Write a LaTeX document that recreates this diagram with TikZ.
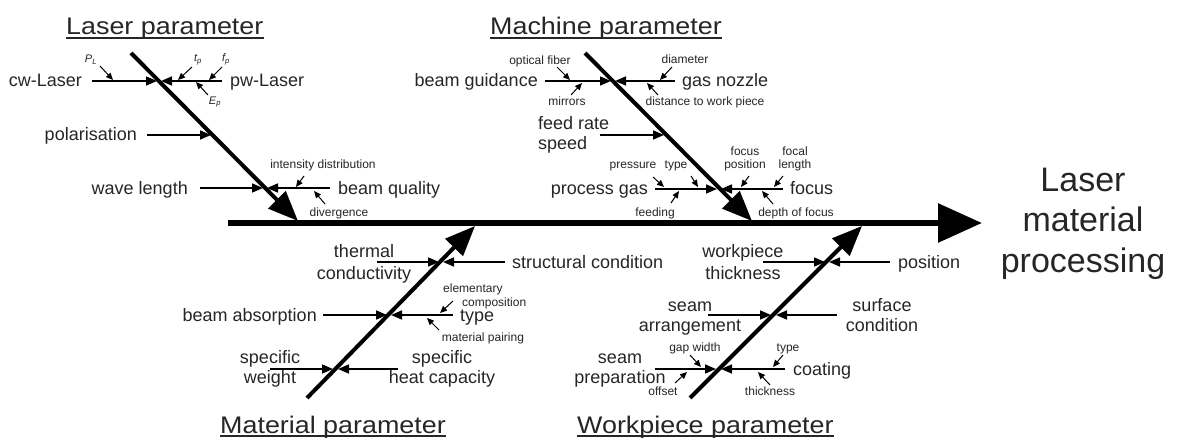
\documentclass[tikz,border=0pt]{standalone}
\usepackage{fontspec}
\setmainfont{Liberation Sans}
\newfontfamily\titlefont[FakeStretch=1.12]{Liberation Sans}
\usetikzlibrary{arrows.meta}
\begin{document}
\begin{tikzpicture}[x=1pt,y=-1pt,
  med/.style={font=\fontsize{18}{21}\selectfont,inner sep=0pt,text=black!85},
  sml/.style={font=\fontsize{12}{13}\selectfont,inner sep=0pt,text=black!85},
  sub/.style={font=\fontsize{11}{12}\selectfont\itshape,inner sep=0pt,text=black!85},
  ttl/.style={font=\titlefont\fontsize{24}{28}\selectfont,inner sep=0pt,text=black!85,anchor=base west},
  big/.style={font=\fontsize{34}{40}\selectfont,inner sep=0pt,text=black!85,anchor=base},
  spine/.style={line width=6pt,-{Triangle[length=44pt,width=38pt]}},
  bone/.style={line width=4pt,-{Triangle[length=30pt,width=24pt]}},
  branch/.style={line width=1.6pt,-{Triangle[length=11pt,width=9pt]}},
  twig/.style={line width=1pt,-{Triangle[length=7pt,width=6pt]}},
  uline/.style={line width=1.4pt,black!85}]
\useasboundingbox[fill=white] (0,0) rectangle (1179,441);

% ---------- spine ----------
\coordinate (sp0) at (228,223);
\coordinate (sp1) at (982,223);
\draw[spine] (sp0) -- (sp1);
\node[big] (r1) at (1083,192) {Laser};
\node[big] (r2) at (1083,232) {material};
\node[big] (r3) at (1083,272) {processing};

% ---------- Laser parameter ----------
\node[ttl] (t1) at (66,35) {Laser parameter};
\draw[uline] ([yshift=-3pt]t1.base west) -- ([yshift=-3pt]t1.base east);
\coordinate (b1s) at (131,53);
\coordinate (b1e) at (298,221);
\draw[bone] (b1s) -- (b1e);

\node[med,anchor=base east] (cw) at (82,87) {cw-Laser};
\coordinate (cwa) at (92,81); \coordinate (cwb) at (157,81);
\draw[branch] (cwa) -- (cwb);
\node[med,anchor=base west] (pw) at (230,87) {pw-Laser};
\coordinate (pwa) at (222,81); \coordinate (pwb) at (161,81);
\draw[branch] (pwa) -- (pwb);
\node[sub] (pl) at (91,60) {P\textsubscript{L}};
\coordinate (pla) at (100,66); \coordinate (plb) at (113,80);
\draw[twig] (pla) -- (plb);
\node[sub] (tp) at (198,60) {t\textsubscript{p}};
\coordinate (tpa) at (192,67); \coordinate (tpb) at (178,80);
\draw[twig] (tpa) -- (tpb);
\node[sub] (fp) at (226,59) {f\textsubscript{p}};
\coordinate (fpa) at (222,67); \coordinate (fpb) at (209,80);
\draw[twig] (fpa) -- (fpb);
\node[sub] (ep) at (215,102) {E\textsubscript{p}};
\coordinate (epa) at (208,95); \coordinate (epb) at (196,82);
\draw[twig] (epa) -- (epb);

\node[med,anchor=base east] (pol) at (137,141) {polarisation};
\coordinate (pola) at (147,135); \coordinate (polb) at (211,135);
\draw[branch] (pola) -- (polb);

\node[med,anchor=base east] (wl) at (188,194) {wave length};
\coordinate (wla) at (200,188); \coordinate (wlb) at (263,188);
\draw[branch] (wla) -- (wlb);
\node[med,anchor=base west] (bq) at (338,194) {beam quality};
\coordinate (bqa) at (330,188); \coordinate (bqb) at (267,188);
\draw[branch] (bqa) -- (bqb);
\node[sml,anchor=base] (id) at (323,169) {intensity distribution};
\coordinate (ida) at (304,176); \coordinate (idb) at (296,187);
\draw[twig] (ida) -- (idb);
\node[sml,anchor=base] (dv) at (339,216) {divergence};
\coordinate (dva) at (325,204); \coordinate (dvb) at (314,191);
\draw[twig] (dva) -- (dvb);

% ---------- Machine parameter ----------
\node[ttl] (t2) at (490,35) {Machine parameter};
\draw[uline] ([yshift=-3pt]t2.base west) -- ([yshift=-3pt]t2.base east);
\coordinate (b2s) at (585,53);
\coordinate (b2e) at (752,221);
\draw[bone] (b2s) -- (b2e);

\node[med,anchor=base east] (bg) at (538,87) {beam guidance};
\coordinate (bga) at (545,81); \coordinate (bgb) at (611,81);
\draw[branch] (bga) -- (bgb);
\node[med,anchor=base west] (gn) at (682,87) {gas nozzle};
\coordinate (gna) at (675,81); \coordinate (gnb) at (615,81);
\draw[branch] (gna) -- (gnb);
\node[sml,anchor=base] (of) at (540,65) {optical fiber};
\coordinate (ofa) at (557,67); \coordinate (ofb) at (570,80);
\draw[twig] (ofa) -- (ofb);
\node[sml,anchor=base] (mi) at (567,106) {mirrors};
\coordinate (mia) at (571,95); \coordinate (mib) at (582,83);
\draw[twig] (mia) -- (mib);
\node[sml,anchor=base] (di) at (685,64) {diameter};
\coordinate (dia) at (672,67); \coordinate (dib) at (660,80);
\draw[twig] (dia) -- (dib);
\node[sml,anchor=base] (dw) at (705,106) {distance to work piece};
\coordinate (dwa) at (658,95); \coordinate (dwb) at (647,83);
\draw[twig] (dwa) -- (dwb);

\node[med,anchor=base west] (fr1) at (538,130) {feed rate};
\node[med,anchor=base west] (fr2) at (538,150) {speed};
\coordinate (fra) at (600,135); \coordinate (frb) at (664,135);
\draw[branch] (fra) -- (frb);

\node[med,anchor=base east] (pg) at (648,195) {process gas};
\coordinate (pga) at (655,189); \coordinate (pgb) at (717,189);
\draw[branch] (pga) -- (pgb);
\node[med,anchor=base west] (fc) at (790,195) {focus};
\coordinate (fca) at (783,189); \coordinate (fcb) at (721,189);
\draw[branch] (fca) -- (fcb);
\node[sml,anchor=base] (pr) at (633,169) {pressure};
\coordinate (pra) at (653,177); \coordinate (prb) at (664,187);
\draw[twig] (pra) -- (prb);
\node[sml,anchor=base] (ty1) at (676,169) {type};
\coordinate (ty1a) at (691,176); \coordinate (ty1b) at (698,187);
\draw[twig] (ty1a) -- (ty1b);
\node[sml,anchor=base] (fe) at (655,216) {feeding};
\coordinate (fea) at (671,203); \coordinate (feb) at (679,191);
\draw[twig] (fea) -- (feb);
\node[sml,anchor=base] (fp1) at (745,156) {focus};
\node[sml,anchor=base] (fp2) at (745,169) {position};
\coordinate (fpoa) at (749,176); \coordinate (fpob) at (741,187);
\draw[twig] (fpoa) -- (fpob);
\node[sml,anchor=base] (fl1) at (795,156) {focal};
\node[sml,anchor=base] (fl2) at (795,169) {length};
\coordinate (fla) at (783,176); \coordinate (flb) at (774,187);
\draw[twig] (fla) -- (flb);
\node[sml,anchor=base] (df) at (796,216) {depth of focus};
\coordinate (dfa) at (773,204); \coordinate (dfb) at (762,191);
\draw[twig] (dfa) -- (dfb);

% ---------- Material parameter ----------
\node[ttl] (t3) at (220,433) {Material parameter};
\draw[uline] ([yshift=-3pt]t3.base west) -- ([yshift=-3pt]t3.base east);
\coordinate (b3s) at (307,398);
\coordinate (b3e) at (475,226);
\draw[bone] (b3s) -- (b3e);

\node[med,anchor=base] (tc1) at (364,258) {thermal};
\node[med,anchor=base] (tc2) at (364,279) {conductivity};
\coordinate (tca) at (377,262); \coordinate (tcb) at (439,262);
\draw[branch] (tca) -- (tcb);
\node[med,anchor=base west] (sc) at (512,268) {structural condition};
\coordinate (sca) at (505,262); \coordinate (scb) at (443,262);
\draw[branch] (sca) -- (scb);

\node[med,anchor=base east] (ba) at (317,321) {beam absorption};
\coordinate (baa) at (323,315); \coordinate (bab) at (387,315);
\draw[branch] (baa) -- (bab);
\node[med,anchor=base west] (ty2) at (460,321) {type};
\coordinate (ty2a) at (453,315); \coordinate (ty2b) at (391,315);
\draw[branch] (ty2a) -- (ty2b);
\node[sml,anchor=base west] (ec1) at (443,292) {elementary};
\node[sml,anchor=base west] (ec2) at (462,306) {composition};
\coordinate (eca) at (453,301); \coordinate (ecb) at (440,313);
\draw[twig] (eca) -- (ecb);
\node[sml,anchor=base] (mp) at (483,341) {material pairing};
\coordinate (mpa) at (439,330); \coordinate (mpb) at (427,318);
\draw[twig] (mpa) -- (mpb);

\node[med,anchor=base] (sw1) at (270,363) {specific};
\node[med,anchor=base] (sw2) at (270,383) {weight};
\coordinate (swa) at (270,369); \coordinate (swb) at (333,369);
\draw[branch] (swa) -- (swb);
\node[med,anchor=base] (sh1) at (442,363) {specific};
\node[med,anchor=base] (sh2) at (442,383) {heat capacity};
\coordinate (sha) at (398,369); \coordinate (shb) at (338,369);
\draw[branch] (sha) -- (shb);

% ---------- Workpiece parameter ----------
\node[ttl] (t4) at (577,433) {Workpiece parameter};
\draw[uline] ([yshift=-3pt]t4.base west) -- ([yshift=-3pt]t4.base east);
\coordinate (b4s) at (690,398);
\coordinate (b4e) at (862,226);
\draw[bone] (b4s) -- (b4e);

\node[med,anchor=base] (wt1) at (743,258) {workpiece};
\node[med,anchor=base] (wt2) at (743,279) {thickness};
\coordinate (wta) at (763,262); \coordinate (wtb) at (825,262);
\draw[branch] (wta) -- (wtb);
\node[med,anchor=base west] (po) at (898,268) {position};
\coordinate (poa) at (890,262); \coordinate (pob) at (829,262);
\draw[branch] (poa) -- (pob);

\node[med,anchor=base] (sa1) at (690,311) {seam};
\node[med,anchor=base] (sa2) at (690,331) {arrangement};
\coordinate (saa) at (708,315); \coordinate (sab) at (771,315);
\draw[branch] (saa) -- (sab);
\node[med,anchor=base] (su1) at (882,311) {surface};
\node[med,anchor=base] (su2) at (882,331) {condition};
\coordinate (sua) at (837,315); \coordinate (sub) at (776,315);
\draw[branch] (sua) -- (sub);

\node[med,anchor=base] (sp1a) at (620,363) {seam};
\node[med,anchor=base] (sp2a) at (620,383) {preparation};
\coordinate (spa) at (655,369); \coordinate (spb) at (716,369);
\draw[branch] (spa) -- (spb);
\node[med,anchor=base west] (co) at (793,375) {coating};
\coordinate (coa) at (785,369); \coordinate (cob) at (721,369);
\draw[branch] (coa) -- (cob);
\node[sml,anchor=base] (gw) at (695,351) {gap width};
\coordinate (gwa) at (690,355); \coordinate (gwb) at (701,367);
\draw[twig] (gwa) -- (gwb);
\node[sml,anchor=base] (os) at (663,395) {offset};
\coordinate (osa) at (675,383); \coordinate (osb) at (687,372);
\draw[twig] (osa) -- (osb);
\node[sml,anchor=base] (ty3) at (788,351) {type};
\coordinate (ty3a) at (783,355); \coordinate (ty3b) at (773,367);
\draw[twig] (ty3a) -- (ty3b);
\node[sml,anchor=base] (th) at (770,395) {thickness};
\coordinate (tha) at (770,385); \coordinate (thb) at (758,372);
\draw[twig] (tha) -- (thb);
\end{tikzpicture}
\end{document}
